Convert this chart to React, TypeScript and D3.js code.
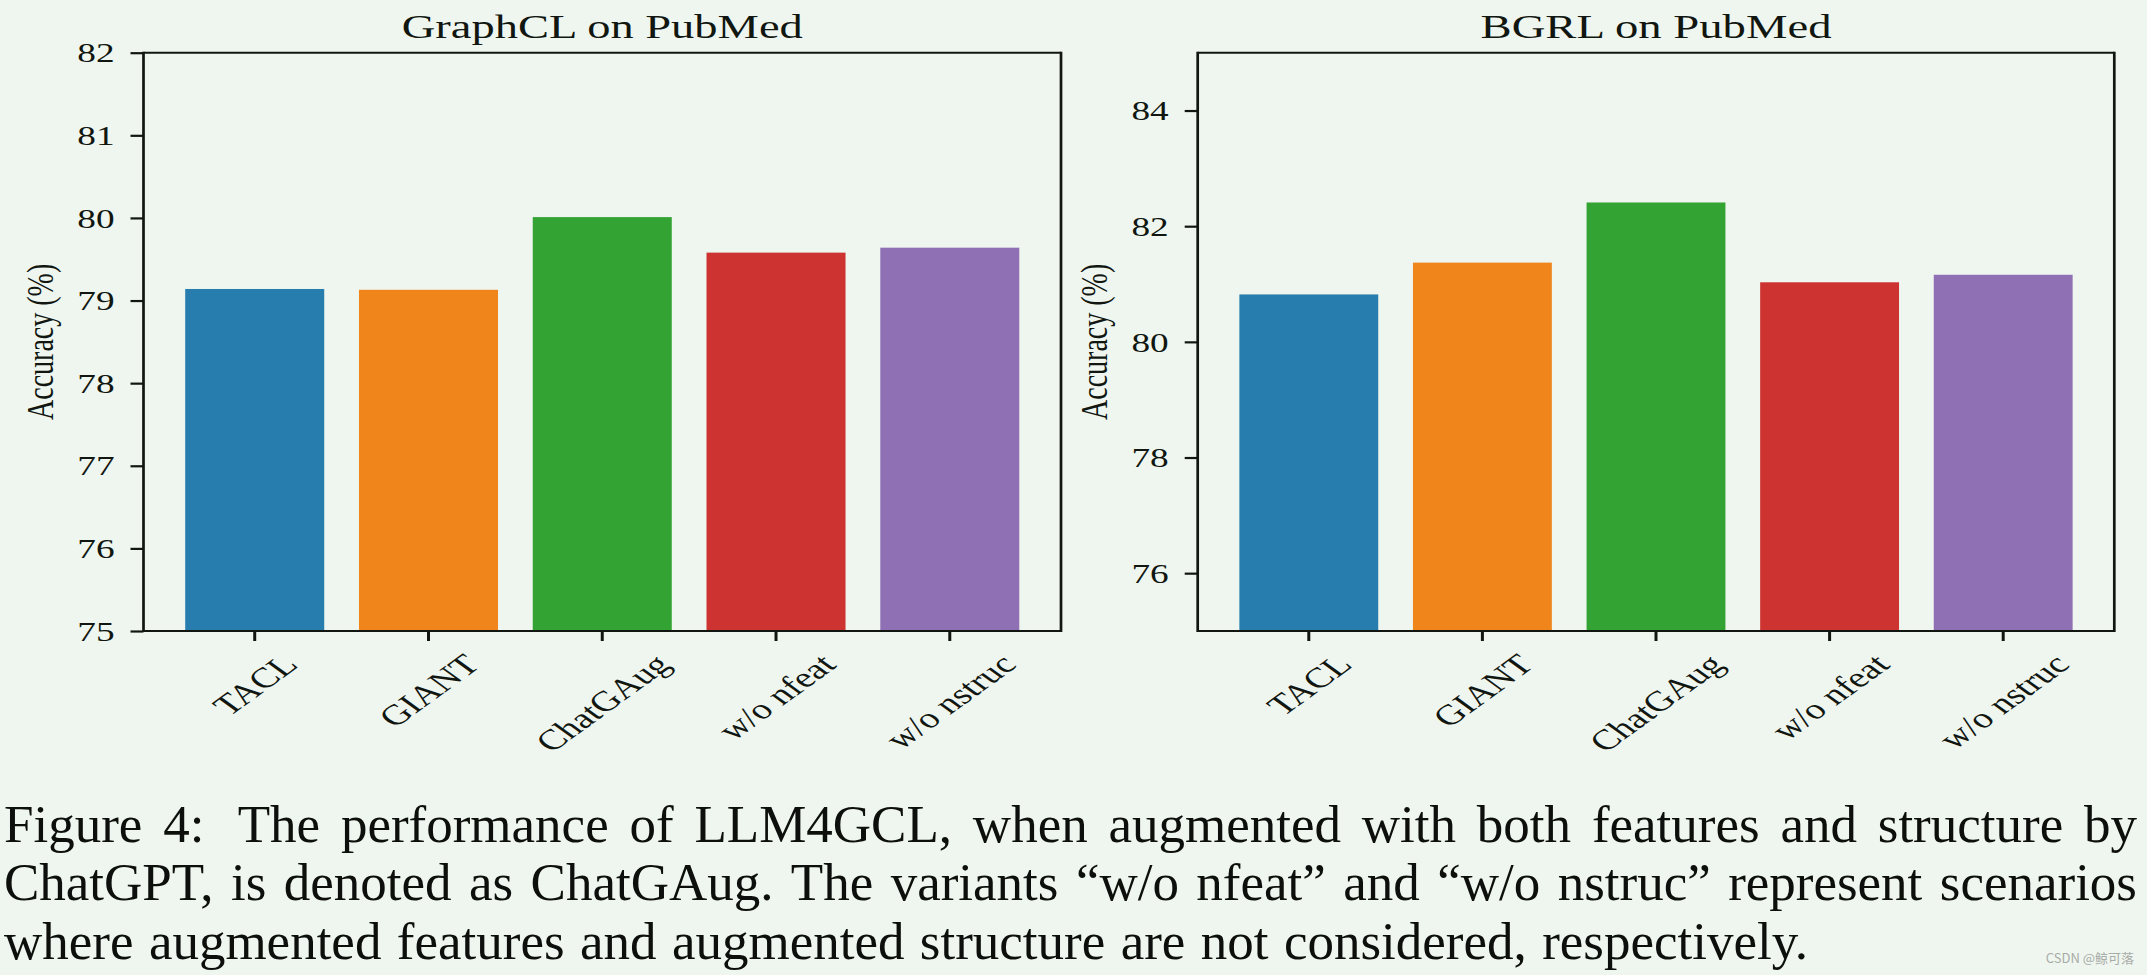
import React, { useEffect, useRef } from "react";
import * as d3 from "d3";

const categories = ["TACL", "GIANT", "ChatGAug", "w/o nfeat", "w/o nstruc"];
const graphclAccuracy = [79.14, 79.13, 80.01, 79.58, 79.64];
const bgrlAccuracy = [80.82, 81.37, 82.41, 81.03, 81.16];
const graphclTicks = [75, 76, 77, 78, 79, 80, 81, 82];
const bgrlTicks = [76, 78, 80, 82, 84];
const barColors = ["#277dae", "#ef851b", "#33a334", "#cd3330", "#9070b4"];

const captionLines = [
  "Figure 4:  The performance of LLM4GCL, when augmented with both features and structure by",
  "ChatGPT, is denoted as ChatGAug. The variants \u201cw/o nfeat\u201d and \u201cw/o nstruc\u201d represent scenarios",
  "where augmented features and augmented structure are not considered, respectively.",
];

const W = 2147;
const H = 975;
const SX = 1.38; // the figure is stretched horizontally
const FONT = "Liberation Serif, Times New Roman, Times, serif";
const INK = "#111611";

export default function App() {
  const ref = useRef(null);

  useEffect(() => {
    const svg = d3.select(ref.current);
    svg.selectAll("*").remove();

    svg.append("rect").attr("width", W).attr("height", H).attr("fill", "#eff6ef");

    const panels = [
      { title: "GraphCL on PubMed", values: graphclAccuracy, domain: [75, 82], ticks: graphclTicks, left: 143.5, right: 1061 },
      { title: "BGRL on PubMed", values: bgrlAccuracy, domain: [75, 85], ticks: bgrlTicks, left: 1197.7, right: 2114.3 },
    ];
    const top = 52.7;
    const bottom = 631;

    panels.forEach((p) => {
      const g = svg.append("g");
      const x = d3
        .scaleBand()
        .domain(categories)
        .range([p.left, p.right])
        .paddingInner(0.2)
        .paddingOuter(0.24);
      const y = d3.scaleLinear().domain(p.domain).range([bottom, top]);

      g.selectAll("rect.bar")
        .data(categories)
        .enter()
        .append("rect")
        .attr("class", "bar")
        .attr("x", (d) => x(d))
        .attr("width", x.bandwidth())
        .attr("y", (d, i) => y(p.values[i]))
        .attr("height", (d, i) => y(p.domain[0]) - y(p.values[i]))
        .attr("fill", (d, i) => barColors[i]);

      // y axis
      const ya = g
        .append("g")
        .attr("transform", `translate(${p.left},0)`)
        .call(d3.axisLeft(y).tickValues(p.ticks).tickSize(13).tickFormat(d3.format("d")));
      ya.select(".domain").remove();
      ya.selectAll("line").attr("stroke", INK).attr("stroke-width", 2.2);
      ya.selectAll("text")
        .attr("x", 0)
        .attr("dy", "0.34em")
        .attr("transform", `translate(-29,0) scale(${SX},1)`)
        .attr("font-family", FONT)
        .attr("font-size", 27)
        .attr("fill", INK);

      // x axis
      const xa = g
        .append("g")
        .attr("transform", `translate(0,${bottom})`)
        .call(d3.axisBottom(x).tickSize(10));
      xa.select(".domain").remove();
      xa.selectAll("line").attr("stroke", INK).attr("stroke-width", 3);
      xa.selectAll("text")
        .attr("font-family", FONT)
        .attr("font-size", 28.5)
        .attr("fill", INK)
        .attr("text-anchor", "middle")
        .attr("dominant-baseline", "central")
        .attr("y", 0)
        .attr("dy", null)
        .attr("transform", function () {
          const L = this.getComputedTextLength();
          const half = ((L + 0.7 * 28.5) * Math.SQRT1_2) / 2;
          return `translate(0,${21 + half}) scale(${SX},1) rotate(-45)`;
        });

      // spines
      g.append("line").attr("x1", p.left).attr("x2", p.right).attr("y1", top).attr("y2", top)
        .attr("stroke", INK).attr("stroke-width", 2);
      g.append("line").attr("x1", p.left).attr("x2", p.right).attr("y1", bottom).attr("y2", bottom)
        .attr("stroke", INK).attr("stroke-width", 2);
      g.append("line").attr("x1", p.left).attr("x2", p.left).attr("y1", top - 1).attr("y2", bottom + 1)
        .attr("stroke", INK).attr("stroke-width", 2.7);
      g.append("line").attr("x1", p.right).attr("x2", p.right).attr("y1", top - 1).attr("y2", bottom + 1)
        .attr("stroke", INK).attr("stroke-width", 2.7);

      const titleWidth = p.title.startsWith("GraphCL") ? 401 : 351;
      g.append("g")
        .attr("transform", `translate(${(p.left + p.right) / 2},37.5) scale(${SX},1)`)
        .append("text")
        .attr("text-anchor", "middle")
        .attr("font-family", FONT)
        .attr("font-size", 34)
        .attr("fill", INK)
        .attr("textLength", titleWidth / SX)
        .attr("lengthAdjust", "spacingAndGlyphs")
        .text(p.title);

      // y label
      g.append("g")
        .attr("transform", `translate(${p.left - 90.5},${(top + bottom) / 2}) scale(${SX},1) rotate(-90)`)
        .append("text")
        .attr("text-anchor", "middle")
        .attr("font-family", FONT)
        .attr("font-size", 28)
        .attr("fill", INK)
        .text("Accuracy (%)");
    });

    // caption: each word placed on its own, gaps stretched to fill the line
    const capY = [842, 900, 959];
    const capEnd = [2137, 2137, 1808];
    const capStart = 4;
    captionLines.forEach((line, li) => {
      const lineG = svg.append("g");
      const words = line.split(/ +/);
      const weights = [];
      line.replace(/ +/g, (m) => { weights.push(m.length === 1 ? 1 : 1.6); return m; });
      const nodes = words.map((w) =>
        lineG.append("text")
          .attr("y", capY[li])
          .attr("font-family", FONT)
          .attr("font-size", 53)
          .attr("fill", "#0c0f0c")
          .text(w)
      );
      const widths = nodes.map((n) => n.node().getComputedTextLength());
      const total = d3.sum(widths);
      const gap = (capEnd[li] - capStart - total) / d3.sum(weights);
      let cx = capStart;
      nodes.forEach((n, i) => {
        n.attr("x", cx);
        cx += widths[i] + (i < weights.length ? gap * weights[i] : 0);
      });
    });

    svg.append("text")
      .attr("x", 2134)
      .attr("y", 963)
      .attr("text-anchor", "end")
      .attr("font-family", "'Noto Sans CJK SC', 'Noto Sans', sans-serif")
      .attr("font-size", 13)
      .attr("fill", "#a8aca8")
      .text("CSDN @鲸可落");
  }, []);

  return (
    <svg
      ref={ref}
      width={W}
      height={H}
      style={{ position: "absolute", left: 0, top: 0, display: "block" }}
    />
  );
}
